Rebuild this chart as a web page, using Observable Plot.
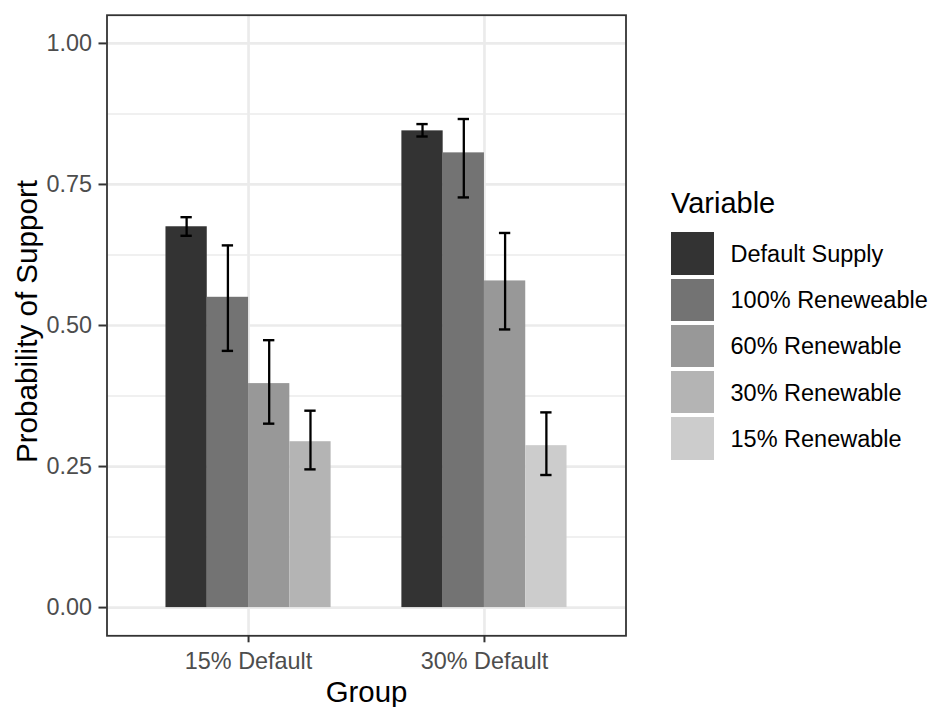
<!DOCTYPE html>
<html>
<head>
<meta charset="utf-8">
<script src="https://cdn.jsdelivr.net/npm/d3@7"></script>
<script src="https://cdn.jsdelivr.net/npm/@observablehq/plot@0.6"></script>
<style>
  html, body { margin: 0; padding: 0; background: #ffffff; }
  #wrap { position: relative; width: 929px; height: 707px; font-family: "Liberation Sans", Arial, sans-serif; }
  #legend { position: absolute; left: 671px; top: 0; font-family: "Liberation Sans", Arial, sans-serif; color: #000; }
  #legend .title { position: absolute; left: 0; top: 189px; font-size: 29px; line-height: 29px; white-space: nowrap; }
  #legend .rows { position: absolute; left: 0; top: 230.5px; }
  #legend .row { display: flex; align-items: center; height: 46.2px; white-space: nowrap; }
  #legend .key { width: 42.5px; height: 42.5px; flex: none; }
  #legend .lab { margin-left: 17px; font-size: 23.5px; position: relative; top: 1px; }
</style>
</head>
<body>
<div id="wrap"></div>
<script>
// ---- data ----
const groups = ["15% Default", "30% Default"];
const variables = ["Default Supply", "100% Reneweable", "60% Renewable", "30% Renewable", "15% Renewable"];
const fillColors = ["#333333", "#737373", "#989898", "#B4B4B4", "#CCCCCC"];

const barGroup = ["15% Default", "15% Default", "15% Default", "15% Default",
                  "30% Default", "30% Default", "30% Default", "30% Default"];
const barVariable = ["Default Supply", "100% Reneweable", "60% Renewable", "30% Renewable",
                     "Default Supply", "100% Reneweable", "60% Renewable", "15% Renewable"];
const barValue = [0.675, 0.550, 0.397, 0.294, 0.845, 0.806, 0.579, 0.287];
const barLower = [0.659, 0.455, 0.326, 0.245, 0.835, 0.727, 0.493, 0.235];
const barUpper = [0.692, 0.642, 0.474, 0.349, 0.857, 0.866, 0.664, 0.346];

const yTicks = [0, 0.25, 0.5, 0.75, 1];
const yMinor = [0.125, 0.375, 0.625, 0.875];
const yTickLabels = ["0.00", "0.25", "0.50", "0.75", "1.00"];
const xTitle = "Group";
const yTitle = "Probability of Support";
const legendTitle = "Variable";

// ---- build table (ggplot-style dodge: group width 0.7 split over bars in group) ----
const dodgeWidth = 0.7;
const capWidth = 0.048;
const groupPos = g => groups.indexOf(g) + 1;
const counts = {};
barGroup.forEach(g => counts[g] = (counts[g] || 0) + 1);
const seen = {};
const table = barValue.map((v, i) => {
  const g = barGroup[i];
  const slot = (seen[g] = (seen[g] ?? -1) + 1);
  const n = counts[g];
  const w = dodgeWidth / n;
  const left = groupPos(g) - dodgeWidth / 2 + slot * w;
  return {group: g, variable: barVariable[i], value: v, lower: barLower[i], upper: barUpper[i],
          x1: left, x2: left + w, xc: left + w / 2};
});

const font = "Liberation Sans, Arial, sans-serif";
const gridColor = "#EBEBEB";

const plot = Plot.plot({
  width: 929,
  height: 707,
  marginLeft: 106.5,
  marginRight: 303.5,
  marginTop: 14.7,
  marginBottom: 71.7,
  style: {fontFamily: font, background: "#ffffff", overflow: "visible"},
  x: {type: "linear", domain: [0.4, 2.6]},
  y: {type: "linear", domain: [-0.05, 1.05]},
  color: {type: "ordinal", domain: variables, range: fillColors},
  marks: [
    Plot.ruleY(yMinor, {stroke: gridColor, strokeWidth: 1.4}),
    Plot.ruleY(yTicks, {stroke: gridColor, strokeWidth: 2.7}),
    Plot.ruleX(groups.map(groupPos), {stroke: gridColor, strokeWidth: 2.7}),
    Plot.rectY(table, {x1: "x1", x2: "x2", y1: 0, y2: "value", fill: "variable", inset: 0}),
    Plot.ruleX(table, {x: "xc", y1: "lower", y2: "upper", stroke: "#000000", strokeWidth: 2.3}),
    Plot.ruleY(table, {y: "lower", x1: d => d.xc - capWidth / 2, x2: d => d.xc + capWidth / 2, stroke: "#000000", strokeWidth: 2.4}),
    Plot.ruleY(table, {y: "upper", x1: d => d.xc - capWidth / 2, x2: d => d.xc + capWidth / 2, stroke: "#000000", strokeWidth: 2.4}),
    Plot.frame({stroke: "#333333", strokeWidth: 1.8}),
    Plot.axisY({anchor: "left", ticks: yTicks, tickFormat: (d, i) => yTickLabels[yTicks.indexOf(d)],
      tickSize: 8, tickPadding: 7, fontSize: 23.4, fontFamily: font, fill: "#4D4D4D", stroke: "#333333", strokeWidth: 2, label: null}),
    Plot.axisX({anchor: "bottom", ticks: groups.map(groupPos), tickFormat: d => groups[d - 1],
      tickSize: 7, tickPadding: 9.5, fontSize: 23.4, fontFamily: font, fill: "#4D4D4D", stroke: "#333333", strokeWidth: 2, label: null}),
    Plot.text([yTitle], {text: d => d, frameAnchor: "left", rotate: -90, dx: -79.5, dy: -4,
      fontSize: 29.6, fontFamily: font, fill: "#000000", textAnchor: "middle", lineAnchor: "middle"}),
    Plot.text([xTitle], {text: d => d, frameAnchor: "bottom", dy: 57,
      fontSize: 29.4, fontFamily: font, fill: "#000000", textAnchor: "middle", lineAnchor: "middle"})
  ]
});

const wrap = document.getElementById("wrap");
wrap.appendChild(plot);

// ---- legend built from the plot's own color scale ----
const colorScale = plot.scale("color");
const legend = d3.select(wrap).append("div").attr("id", "legend");
legend.append("div").attr("class", "title").text(legendTitle);
const rows = legend.append("div").attr("class", "rows")
  .selectAll("div").data(colorScale.domain).join("div").attr("class", "row");
rows.append("div").attr("class", "key").style("background", (d, i) => colorScale.range[i]);
rows.append("div").attr("class", "lab").text(d => d);
</script>
</body>
</html>
